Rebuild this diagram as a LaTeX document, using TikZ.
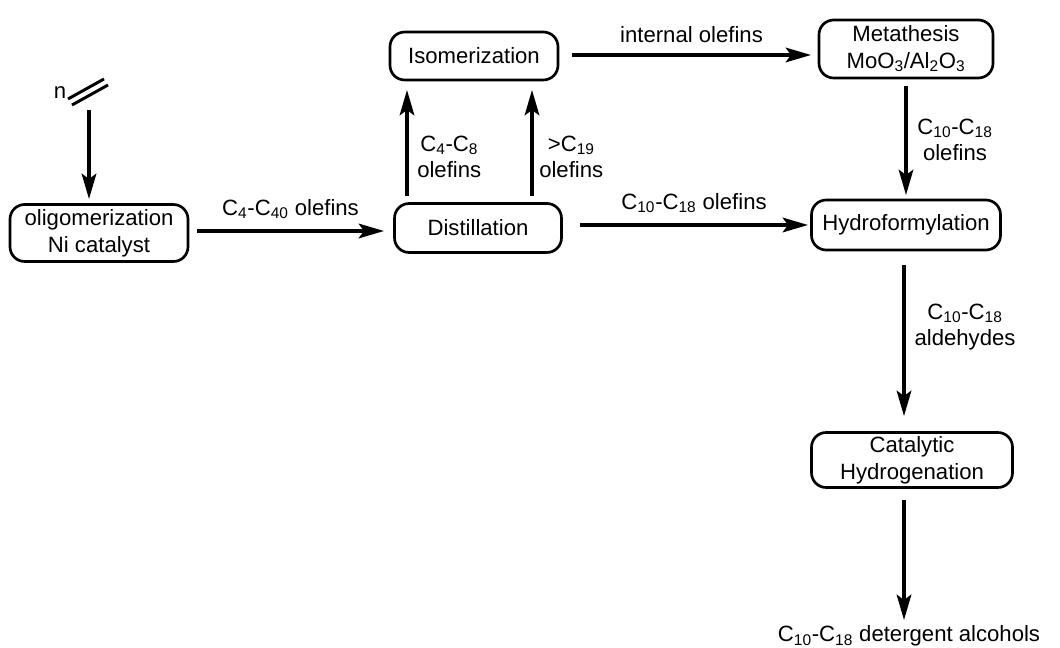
\documentclass[tikz,border=0pt]{standalone}
\usepackage{fontspec}
\setmainfont{Liberation Sans}
\usetikzlibrary{arrows.meta}
\begin{document}
\begin{tikzpicture}[x=0.75pt,y=-0.75pt,
  every node/.style={font=\fontsize{16.6}{20}\selectfont, inner sep=0pt},
  proc/.style={draw, line width=2pt, rounded corners=11pt, align=center},
  flow/.style={line width=2.3pt, -{Stealth[length=19pt,width=11pt,inset=4pt]}},
  bond/.style={line width=2.2pt},
  lab/.style={align=center}]
\useasboundingbox (0,0) rectangle (1060,648);
% boxes
\node[proc, minimum width=133.5pt, minimum height=42.75pt] (olig) at (99,233) {oligomerization\\Ni catalyst};
\node[proc, minimum width=125.25pt, minimum height=36.75pt] (dist) at (478,228) {Distillation};
\node[proc, minimum width=126pt, minimum height=36pt] (isom) at (474,56) {Isomerization};
\node[proc, minimum width=130.5pt, minimum height=43.5pt] (meta) at (906,49) {Metathesis\\MoO\textsubscript{3}/Al\textsubscript{2}O\textsubscript{3}};
\node[proc, minimum width=141.75pt, minimum height=37.5pt] (hydf) at (906,225) {Hydroformylation};
\node[proc, minimum width=150.75pt, minimum height=41.25pt] (cath) at (912,460) {Catalytic\\Hydrogenation};
\node (prod) at (909,636) {C\textsubscript{10}-C\textsubscript{18} detergent alcohols};
% ethylene
\coordinate (e1) at (68,99);
\coordinate (e2) at (104,79);
\coordinate (e3) at (72,105);
\coordinate (e4) at (108,85);
\draw[bond] (e1) -- (e2);
\draw[bond] (e3) -- (e4);
\node (n) at (60,93) {n};
% connectors
\coordinate (s0) at (89,110);
\coordinate (t0) at (89,199);
\draw[flow] (s0) -- (t0);
\coordinate (s1) at (197,231);
\coordinate (t1) at (384,231);
\draw[flow] (s1) -- node[lab, above=8pt] {C\textsubscript{4}-C\textsubscript{40} olefins} (t1);
\coordinate (s2) at (407,196);
\coordinate (t2) at (407,90);
\draw[flow] (s2) -- (t2);
\node[lab, anchor=west] at (417,157) {C\textsubscript{4}-C\textsubscript{8}\\olefins};
\coordinate (s3) at (532,196);
\coordinate (t3) at (532,90);
\draw[flow] (s3) -- (t3);
\node[lab, anchor=west] at (539,157) {{>}C\textsubscript{19}\\olefins};
\coordinate (s4) at (572,55);
\coordinate (t4) at (811,55);
\draw[flow] (s4) -- node[lab, above=8pt] {internal olefins} (t4);
\coordinate (s5) at (580,225);
\coordinate (t5) at (808,225);
\draw[flow] (s5) -- node[lab, above=8pt] {C\textsubscript{10}-C\textsubscript{18} olefins} (t5);
\coordinate (s6) at (906,86);
\coordinate (t6) at (906,195);
\draw[flow] (s6) -- (t6);
\node[lab] at (955,140) {C\textsubscript{10}-C\textsubscript{18}\\olefins};
\coordinate (s7) at (904,265);
\coordinate (t7) at (904,416);
\draw[flow] (s7) -- (t7);
\node[lab] at (965,327) {C\textsubscript{10}-C\textsubscript{18}\\aldehydes};
\coordinate (s8) at (904,500);
\coordinate (t8) at (904,620);
\draw[flow] (s8) -- (t8);
\end{tikzpicture}
\end{document}
